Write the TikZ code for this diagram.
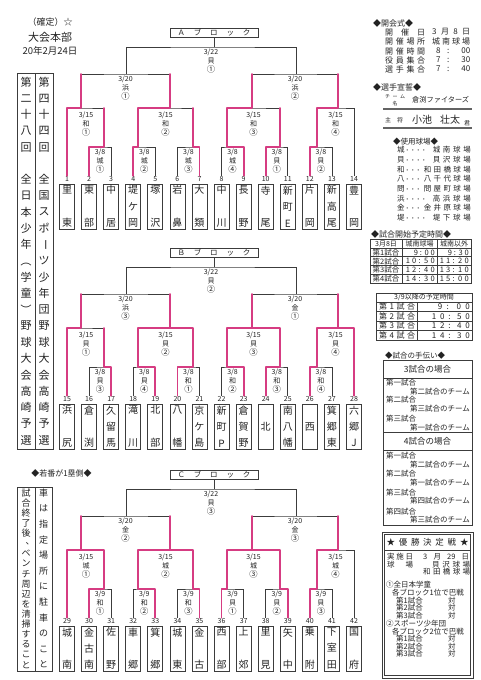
\documentclass[tikz,border=0pt]{standalone}
\usepackage{fontspec}
\setmainfont{Noto Sans CJK JP}
\usetikzlibrary{calc}
\definecolor{lg}{RGB}{60,60,60}
\definecolor{pkc}{RGB}{214,60,130}
\definecolor{tx}{RGB}{35,35,35}
\newcommand\fs[1]{\fontsize{#1}{#1}\selectfont}
\newcommand\tn[3]{\parbox[c][41pt][s]{14pt}{\centering\fs{10}#1\par\vfill #2\par\vfill #3\par}}
\newcommand\spr[2]{\makebox[#1][s]{#2}}
\tikzset{
  ln/.style={draw=lg, line width=0.7pt},
  pkl/.style={draw=pkc, line width=1.8pt, line join=round, line cap=round},
  teambox/.style={draw=lg, line width=0.7pt, minimum width=15pt, minimum height=45pt, inner sep=0pt, text=tx},
  numlbl/.style={font=\fs{7}, inner sep=0.5pt, text=tx},
  mlbl/.style={font=\fontsize{7}{9.2}\selectfont, inner sep=0pt, align=center, text=tx},
  hdrbox/.style={draw=lg, line width=0.7pt, minimum width=88pt, minimum height=9pt, inner sep=0pt, font=\fs{7.5}, text=tx},
  pt/.style={anchor=west, inner sep=0pt, font=\fs{7.5}, text=tx},
  ct/.style={inner sep=0pt, font=\fs{7.5}, text=tx},
  vch/.style={inner sep=0pt, text=tx},
}
% block: #1 prefix, #2 letter, #3 team list
\newcommand\drawblock[3]{%
  \node[hdrbox] (#1hdr) at (214,32.5) {\spr{73pt}{#2 ブ ロ ッ ク}};
  \foreach \k/\g/\ta/\tb/\tc in {#3} {%
    \pgfmathsetmacro\xx{67+22.08*(\k-1)}%
    \node[numlbl] (#1n\k) at (\xx,179) {\g};
    \node[teambox] (#1t\k) at (\xx,206.5) {\tn{\ta}{\tb}{\tc}};
  }
  \coordinate (#1m1) at (104,147);
  \coordinate (#1m2) at (138,147);
  \coordinate (#1m3) at (193,147);
  \coordinate (#1m4) at (227,147);
  \coordinate (#1m5) at (280,147);
  \coordinate (#1m6) at (317,147);
  \coordinate (#1q1) at (81,108);
  \coordinate (#1q2) at (170,108);
  \coordinate (#1q3) at (252,108);
  \coordinate (#1q4) at (338,108);
  \coordinate (#1s1) at (126,74);
  \coordinate (#1s2) at (296,74);
  \coordinate (#1f) at (214,47);
  \draw[ln] (#1n2.north) |- (#1m1) -| (#1n3.north);
  \draw[ln] (#1n4.north) |- (#1m2) -| (#1n5.north);
  \draw[ln] (#1n6.north) |- (#1m3) -| (#1n7.north);
  \draw[ln] (#1n8.north) |- (#1m4) -| (#1n9.north);
  \draw[ln] (#1n10.north) |- (#1m5) -| (#1n11.north);
  \draw[ln] (#1n12.north) |- (#1m6) -| (#1n13.north);
  \draw[ln] (#1n1.north) |- (#1q1) -| (#1m1);
  \draw[ln] (#1m2) |- (#1q2) -| (#1m3);
  \draw[ln] (#1m4) |- (#1q3) -| (#1m5);
  \draw[ln] (#1m6) |- (#1q4) -| (#1n14.north);
  \draw[ln] (#1q1) |- (#1s1) -| (#1q2);
  \draw[ln] (#1q3) |- (#1s2) -| (#1q4);
  \draw[ln] (#1s1) |- (#1f) -| (#1s2);
  \draw[ln] (#1f) -- (#1hdr.south);
}
\newcommand\lbl[5]{\node[mlbl] (#1) at #2 {#3\\#4\\{\fontsize{8.3}{9.2}\selectfont #5}};}
\newcommand\vcol[6]{%
  \foreach \ch/\rot [count=\i from 0] in {#6} {%
    \node[vch, font=\fs{#5}, rotate=\rot] (#1\i) at (#2,{#3+\i*#4}) {\ch};
  }%
}
\begin{document}
\begin{tikzpicture}[x=1pt,y=-1pt]
\useasboundingbox (0,0) rectangle (480,680);
\fill[white] (0,0) rectangle (480,680);

% ---------- top-left title ----------
\node[ct, font=\fs{9}] (t1) at (50,22) {（確定）☆};
\node[ct, font=\fs{11}] (t2) at (50,37) {大会本部};
\node[ct, font=\fs{9.5}] (t3) at (50,51) {20年2月24日};

% ---------- vertical title columns ----------
\draw[ln] (17,73) rectangle (35,449);
\draw[ln] (35,73) rectangle (53,449);
\vcol{va}{26}{82}{16.27}{11}{第/0,二/0,十/0,八/0,回/0,{}/0,全/0,日/0,本/0,少/0,年/0,（/-90,学/0,童/0,）/-90,野/0,球/0,大/0,会/0,高/0,崎/0,予/0,選/0}
\vcol{vb}{44}{82}{16.27}{11}{第/0,四/0,十/0,四/0,回/0,{}/0,全/0,国/0,ス/0,ポ/0,ー/-90,ツ/0,少/0,年/0,団/0,野/0,球/0,大/0,会/0,高/0,崎/0,予/0,選/0}

% ---------- bottom-left notes ----------
\node[ct, font=\fs{8}] (waka) at (61.5,473) {◆若番が1塁側◆};
\draw[ln] (17,487) rectangle (35,671);
\draw[ln] (35,487) rectangle (52,671);
\vcol{vc}{26}{493}{10.1}{9}{試/0,合/0,終/0,了/0,後/0,{}/0,ベ/0,ン/0,チ/0,周/0,辺/0,を/0,清/0,掃/0,す/0,る/0,こ/0,と/0}
\node[vch, font=\fs{9}] (comma) at (30,544) {、};
\vcol{vd}{43.5}{493}{15.6}{9}{車/0,は/0,指/0,定/0,場/0,所/0,に/0,駐/0,車/0,の/0,こ/0,と/0}

% ---------- A block ----------
\drawblock{A}{Ａ}{1/1/里/{}/東, 2/2/東/{}/部, 3/3/中/{}/居, 4/4/堤/ケ/岡, 5/5/塚/{}/沢, 6/6/岩/{}/鼻, 7/7/大/{}/類, 8/8/中/{}/川, 9/9/長/{}/野, 10/10/寺/{}/尾, 11/11/新/町/E, 12/12/片/{}/岡, 13/13/新/高/尾, 14/14/豊/{}/岡}
\lbl{Ar1}{(100.1,161)}{3/8}{城}{①}
\lbl{Ar2}{(144.3,161)}{3/8}{城}{②}
\lbl{Ar3}{(188.4,161)}{3/8}{城}{③}
\lbl{Ar4}{(232.6,161)}{3/8}{城}{④}
\lbl{Ar5}{(276.8,161)}{3/8}{貝}{①}
\lbl{Ar6}{(320.9,161)}{3/8}{貝}{②}
\lbl{Aq1l}{(86,124)}{3/15}{和}{①}
\lbl{Aq2l}{(165.5,124)}{3/15}{和}{②}
\lbl{Aq3l}{(253.5,124)}{3/15}{和}{③}
\lbl{Aq4l}{(335.5,124)}{3/15}{和}{④}
\lbl{As1l}{(125.5,88)}{3/20}{浜}{①}
\lbl{As2l}{(295,88)}{3/20}{浜}{②}
\lbl{Afl}{(211,61)}{3/22}{貝}{①}
\draw[pkl] (An1.north) |- (Aq1) -- (Aq1 |- As1);
\draw[pkl] (An2.north) |- (Am1) -- (Am1 |- Aq1);
\draw[pkl] (An4.north) |- (Am2) |- (Aq2) -- (Aq2 |- As1);
\draw[pkl] (An7.north) |- (Am3) -- (Am3 |- Aq2);
\draw[pkl] (An9.north) |- (Am4) |- (Aq3) -- (Aq3 |- As2);
\draw[pkl] (An10.north) |- (Am5) -- (Am5 |- Aq3);
\draw[pkl] (An12.north) |- (Am6) |- (Aq4) -- (Aq4 |- As2);

% ---------- B block ----------
\begin{scope}[yshift=-220pt]
\drawblock{B}{Ｂ}{1/15/浜/{}/尻, 2/16/倉/{}/渕, 3/17/久/留/馬, 4/18/滝/{}/川, 5/19/北/{}/部, 6/20/八/{}/幡, 7/21/京/ケ/島, 8/22/新/町/P, 9/23/倉/賀/野, 10/24/{}/北/{}, 11/25/南/八/幡, 12/26/{}/西/{}, 13/27/箕/郷/東, 14/28/六/郷/J}
\lbl{Br1}{(100.1,161)}{3/8}{貝}{③}
\lbl{Br2}{(144.3,161)}{3/8}{貝}{④}
\lbl{Br3}{(188.4,161)}{3/8}{和}{①}
\lbl{Br4}{(232.6,161)}{3/8}{和}{②}
\lbl{Br5}{(276.8,161)}{3/8}{和}{③}
\lbl{Br6}{(320.9,161)}{3/8}{和}{④}
\lbl{Bq1l}{(86,124)}{3/15}{貝}{①}
\lbl{Bq2l}{(165.5,124)}{3/15}{貝}{②}
\lbl{Bq3l}{(253.5,124)}{3/15}{貝}{③}
\lbl{Bq4l}{(335.5,124)}{3/15}{貝}{④}
\lbl{Bs1l}{(125.5,88)}{3/20}{浜}{③}
\lbl{Bs2l}{(295,88)}{3/20}{金}{①}
\lbl{Bfl}{(211,61)}{3/22}{貝}{②}
\draw[pkl] (Bn1.north) |- (Bq1) -- (Bq1 |- Bs1);
\draw[pkl] (Bn3.north) |- (Bm1) -- (Bm1 |- Bq1);
\draw[pkl] (Bn5.north) |- (Bm2) |- (Bq2) -- (Bq2 |- Bs1);
\draw[pkl] (Bn6.north) |- (Bm3) |- (Bq2);
\draw[pkl] (Bn9.north) |- (Bm4) |- (Bq3) -- (Bq3 |- Bs2);
\draw[pkl] (Bn10.north) |- (Bm5) |- (Bq3);
\draw[pkl] (Bn12.north) |- (Bm6) |- (Bq4) -- (Bq4 |- Bs2);
\draw[pkl] (Bn14.north) |- (Bq4);
\end{scope}

% ---------- C block ----------
\begin{scope}[yshift=-442pt]
\drawblock{C}{Ｃ}{1/29/城/{}/南, 2/30/金/古/南, 3/31/佐/{}/野, 4/32/車/{}/郷, 5/33/箕/{}/郷, 6/34/城/{}/東, 7/35/金/{}/古, 8/36/西/{}/部, 9/37/上/{}/郊, 10/38/里/{}/見, 11/39/矢/{}/中, 12/40/乗/{}/附, 13/41/下/室/田, 14/42/国/{}/府}
\lbl{Cr1}{(100.1,161)}{3/9}{和}{①}
\lbl{Cr2}{(144.3,161)}{3/9}{和}{②}
\lbl{Cr3}{(188.4,161)}{3/9}{和}{③}
\lbl{Cr4}{(232.6,161)}{3/9}{貝}{①}
\lbl{Cr5}{(276.8,161)}{3/9}{貝}{②}
\lbl{Cr6}{(320.9,161)}{3/9}{貝}{③}
\lbl{Cq1l}{(86,124)}{3/15}{城}{①}
\lbl{Cq2l}{(165.5,124)}{3/15}{城}{②}
\lbl{Cq3l}{(253.5,124)}{3/15}{城}{③}
\lbl{Cq4l}{(335.5,124)}{3/15}{城}{④}
\lbl{Cs1l}{(125.5,88)}{3/20}{金}{②}
\lbl{Cs2l}{(295,88)}{3/20}{金}{③}
\lbl{Cfl}{(211,61)}{3/22}{貝}{③}
\draw[pkl] (Cn1.north) |- (Cq1) -- (Cq1 |- Cs1);
\draw[pkl] (Cn2.north) |- (Cm1) |- (Cq1);
\draw[pkl] (Cn5.north) |- (Cm2) |- (Cq2) -- (Cq2 |- Cs1);
\draw[pkl] (Cn7.north) |- (Cm3) |- (Cq2);
\draw[pkl] (Cn8.north) |- (Cm4) |- (Cq3) -- (Cq3 |- Cs2);
\draw[pkl] (Cn11.north) |- (Cm5) |- (Cq3);
\draw[pkl] (Cn12.north) |- (Cm6) |- (Cq4) -- (Cq4 |- Cs2);
\end{scope}

% ---------- right panel: opening ceremony ----------
\node[pt, font=\fs{8}] (p1) at (373,23) {◆開会式◆};
\node[pt, font=\fs{8}] (p2a) at (385,32) {\spr{40pt}{開 催 日}};
\node[pt, font=\fs{8}] (p2b) at (432,32) {\spr{38pt}{3 月 8 日}};
\node[pt, font=\fs{8}] (p3a) at (385,41) {\spr{40pt}{開 催 場 所}};
\node[pt, font=\fs{8}] (p3b) at (432,41) {\spr{38pt}{城 南 球 場}};
\node[pt, font=\fs{8}] (p4a) at (385,51) {\spr{40pt}{開 催 時 間}};
\node[pt, font=\fs{8}] (p4b) at (436,51) {\spr{34pt}{8 : 00}};
\node[pt, font=\fs{8}] (p5a) at (385,60) {\spr{40pt}{役 員 集 合}};
\node[pt, font=\fs{8}] (p5b) at (436,60) {\spr{34pt}{7 : 30}};
\node[pt, font=\fs{8}] (p6a) at (385,69) {\spr{40pt}{選 手 集 合}};
\node[pt, font=\fs{8}] (p6b) at (436,69) {\spr{34pt}{7 : 40}};

\node[pt, font=\fs{8}] (p7) at (373,87) {◆選手宣誓◆};
\node[pt, font=\fs{5}] (p8) at (385,97) {\spr{20pt}{チ ー ム}};
\node[ct, font=\fs{5}] (p9) at (395,104) {名};
\node[pt, font=\fs{7.2}] (p10) at (412,100) {倉渕ファイターズ};
\draw[draw=lg!80, line width=1.3pt] (383,109) -- (472,109);
\node[pt, font=\fs{6}] (p11) at (385,120) {\spr{18pt}{主 将}};
\node[pt, font=\fs{10}] (p12) at (412,119.5) {小池\hspace{8pt}壮太};
\node[ct, font=\fs{6}] (p13) at (467,123) {君};
\draw[draw=lg!80, line width=1.3pt] (383,128) -- (472,128);

\node[pt, font=\fs{7.5}] (p14) at (393,142) {◆使用球場◆};
\foreach \i/\aa/\dd/\ww/\nm in {0/城/・・・・/38pt/城 南 球 場, 1/貝/・・・・/38pt/貝 沢 球 場, 2/和/・・・/47pt/和 田 橋 球 場, 3/八/・・・/47pt/八 千 代 球 場, 4/問/・・・/47pt/問 屋 町 球 場, 5/浜/・・・・/38pt/高 浜 球 場, 6/金/・・・/47pt/金 井 原 球 場, 7/堤/・・・・/38pt/堤 下 球 場} {
  \node[pt] (vu\i) at (397,{150+\i*9.64}) {\aa{\fs{5.5}\dd}};
  \node[pt, anchor=east] (vv\i) at (471,{150+\i*9.64}) {\spr{\ww}{\nm}};
}

% ---------- start time table 1 ----------
\node[pt, font=\fs{8}] (p15) at (371,234) {◆試合開始予定時間◆};
\draw[ln] (370,239) rectangle (471,283);
\foreach \yy in {248,256.75,265.5,274.25} \draw[ln] (370,\yy) -- (471,\yy);
\draw[ln] (402,239) -- (402,283);
\draw[ln] (437,239) -- (437,283);
\node[ct, font=\fs{7}] (h1) at (386,243.7) {3月8日};
\node[ct, font=\fs{7}] (h2) at (419.5,243.7) {城南球場};
\node[ct, font=\fs{7}] (h3) at (454,243.7) {城南以外};
\node[ct] (r1a) at (386,252.5) {第1試合};
\node[ct, anchor=east] (r1b) at (435,252.5) {\spr{21pt}{9 : 0 0}};
\node[ct, anchor=east] (r1c) at (469,252.5) {\spr{21pt}{9 : 3 0}};
\node[ct] (r2a) at (386,261.2) {第2試合};
\node[ct, anchor=east] (r2b) at (435,261.2) {\spr{29pt}{1 0 : 5 0}};
\node[ct, anchor=east] (r2c) at (469,261.2) {\spr{29pt}{1 1 : 2 0}};
\node[ct] (r3a) at (386,270) {第3試合};
\node[ct, anchor=east] (r3b) at (435,270) {\spr{29pt}{1 2 : 4 0}};
\node[ct, anchor=east] (r3c) at (469,270) {\spr{29pt}{1 3 : 1 0}};
\node[ct] (r4a) at (386,278.7) {第4試合};
\node[ct, anchor=east] (r4b) at (435,278.7) {\spr{29pt}{1 4 : 3 0}};
\node[ct, anchor=east] (r4c) at (469,278.7) {\spr{29pt}{1 5 : 0 0}};

% ---------- table 2 ----------
\draw[ln] (376,293) rectangle (472,340);
\foreach \yy in {302,311.5,321,330.5} \draw[ln] (376,\yy) -- (472,\yy);
\draw[ln] (417,302) -- (417,340);
\node[ct, font=\fs{7}] (s0) at (424,297.6) {3/9以降の予定時間};
\node[pt, font=\fs{8}] (s1a) at (379,306.8) {\spr{36pt}{第 1 試 合}};
\node[ct, font=\fs{8}, anchor=east] (s1b) at (470,306.8) {\spr{32pt}{9 : 0 0}};
\node[pt, font=\fs{8}] (s2a) at (379,316.3) {\spr{36pt}{第 2 試 合}};
\node[ct, font=\fs{8}, anchor=east] (s2b) at (470,316.3) {\spr{38pt}{1 0 : 5 0}};
\node[pt, font=\fs{8}] (s3a) at (379,325.8) {\spr{36pt}{第 3 試 合}};
\node[ct, font=\fs{8}, anchor=east] (s3b) at (470,325.8) {\spr{38pt}{1 2 : 4 0}};
\node[pt, font=\fs{8}] (s4a) at (379,335.3) {\spr{36pt}{第 4 試 合}};
\node[ct, font=\fs{8}, anchor=east] (s4b) at (470,335.3) {\spr{38pt}{1 4 : 3 0}};

% ---------- helpers box ----------
\node[pt, font=\fs{7.5}] (p16) at (385,356) {◆試合の手伝い◆};
\draw[ln] (383,360) rectangle (472,525);
\draw[ln] (383,378) -- (472,378);
\draw[ln] (383,432) -- (472,432);
\draw[ln] (383,450) -- (472,450);
\node[ct, font=\fs{8.5}] (g3) at (427.5,369) {3試合の場合};
\node[ct, font=\fs{8.5}] (g4) at (427.5,441) {4試合の場合};
\foreach \yy/\aa/\bb [count=\i] in {383/第一試合/第二試合のチーム, 400/第二試合/第三試合のチーム, 419/第三試合/第一試合のチーム, 456/第一試合/第二試合のチーム, 474/第二試合/第一試合のチーム, 492.5/第三試合/第四試合のチーム, 511.5/第四試合/第三試合のチーム} {
  \node[pt] (ga\i) at (386,\yy) {\aa};
  \node[pt, anchor=east] (gb\i) at (470,{\yy+8.5}) {\bb};
}

% ---------- championship box ----------
\draw[lg, line width=0.9pt] (382,532) rectangle (473,678);
\draw[lg, line width=0.5pt] (384.5,534.5) rectangle (470.5,675.5);
\draw[lg, line width=0.9pt] (384.5,550) -- (470.5,550);
\node[ct, font=\fs{8.5}] (c0) at (427.5,542) {\spr{82pt}{★ 優 勝 決 定 戦 ★}};
\node[pt] (c1a) at (387,557) {\spr{26pt}{実 施 日}};
\node[pt] (c1b) at (423,557) {\spr{46pt}{3 月 29 日}};
\node[pt] (c2a) at (387,564.5) {\spr{26pt}{球 場}};
\node[pt] (c2b) at (432,564.5) {\spr{38pt}{貝 沢 球 場}};
\node[pt] (c3) at (423,572) {\spr{47pt}{和 田 橋 球 場}};
\node[pt] (c4) at (386,585) {①全日本学童};
\node[pt] (c5) at (392,593) {各ブロック1位で巴戦};
\node[pt] (c6) at (396,600.5) {第1試合};
\node[pt] (c7) at (396,608) {第2試合};
\node[pt] (c8) at (396,615.5) {第3試合};
\node[pt] (c6b) at (448,600.5) {対};
\node[pt] (c7b) at (448,608) {対};
\node[pt] (c8b) at (448,615.5) {対};
\node[pt] (c9) at (386,623.5) {②スポーツ少年団};
\node[pt] (c10) at (392,631.5) {各ブロック2位で巴戦};
\node[pt] (c11) at (396,639) {第1試合};
\node[pt] (c12) at (396,646.5) {第2試合};
\node[pt] (c13) at (396,654) {第3試合};
\node[pt] (c11b) at (448,639) {対};
\node[pt] (c12b) at (448,646.5) {対};
\node[pt] (c13b) at (448,654) {対};
\end{tikzpicture}
\end{document}
